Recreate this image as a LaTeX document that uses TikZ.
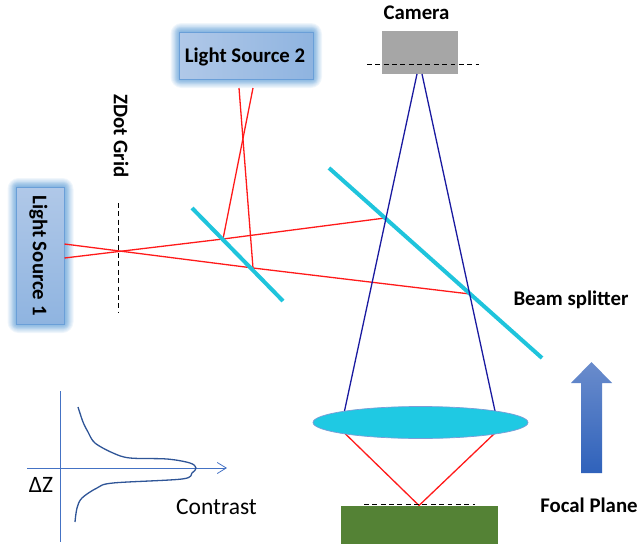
\documentclass[tikz,border=0pt]{standalone}
\usepackage{fontspec}
\setmainfont{Carlito}
\usetikzlibrary{arrows.meta,calc,shapes.geometric}
\definecolor{ray}{HTML}{FF1A1A}
\definecolor{beam}{HTML}{1A1AA0}
\definecolor{mirror}{HTML}{1FC4DC}
\definecolor{lensc}{HTML}{1FC9E3}
\definecolor{axisc}{HTML}{4472C4}
\definecolor{curvec}{HTML}{2F5597}
\definecolor{glow}{HTML}{5B9BD5}
\definecolor{boxa}{HTML}{B0C8E8}
\definecolor{boxb}{HTML}{8FB4E0}
\definecolor{boxline}{HTML}{6A9FD8}
\definecolor{stagec}{HTML}{548235}
\definecolor{arrowa}{HTML}{6A8CCC}
\definecolor{arrowb}{HTML}{2F62BB}
\tikzset{
  x=1pt,y=-1pt,
  rayline/.style={draw=ray,line width=1.3pt},
  beamline/.style={draw=beam,line width=1.3pt},
  mirrorline/.style={draw=mirror,line width=4pt},
  dashline/.style={draw=black,line width=.9pt,dash pattern=on 4.8pt off 3.55pt},
  lightbox/.style={draw=boxline,line width=.8pt,inner sep=0pt},
  boldtext/.style={inner sep=0pt,font=\bfseries\fontsize{20.8}{24}\selectfont},
  plainlabel/.style={inner sep=0pt,font=\fontsize{23.5}{28}\selectfont},
  axisline/.style={draw=axisc,line width=.8pt},
}
\newcommand{\glowbox}[4]{%
  \foreach \g in {9,8,...,1}{
    \fill[glow,opacity=.09,rounded corners=\g pt+2pt] (#1-\g,#2-\g) rectangle (#3+\g,#4+\g);
  }
  \foreach \g in {5,4,...,1}{
    \fill[glow,opacity=.07,rounded corners=\g pt] (#1-\g,#2-\g) rectangle (#3+\g,#4+\g);
  }
}
\begin{document}
\begin{tikzpicture}
\useasboundingbox (0,0) rectangle (643,544);
% glows
\glowbox{179.5}{32}{313}{79}
\glowbox{16.5}{187}{64.5}{324}
% light sources
\node[lightbox,left color=boxa,right color=boxb,minimum width=133.5pt,minimum height=47pt] (ls2) at (246.25,55.5) {};
\node[boldtext] (ls2t) at (245,56.5) {Light Source 2};
\node[lightbox,top color=boxa,bottom color=boxb,minimum width=48pt,minimum height=137pt] (ls1) at (40.5,255.5) {};
\node[boldtext,rotate=-90] (ls1t) at (38.5,255.5) {Light Source 1};
% coordinates
\coordinate (a1) at (64.5,244);
\coordinate (a2) at (64.5,258);
\coordinate (m1) at (253,268);
\coordinate (m2) at (223,239);
\coordinate (m3) at (470,294);
\coordinate (m4) at (385,218);
\coordinate (b1) at (239,88);
\coordinate (b2) at (253,88);
% mirrors
\coordinate (s1a) at (192,208); \coordinate (s1b) at (283,301);
\coordinate (s2a) at (329,168); \coordinate (s2b) at (542,358);
% red rays
\draw[rayline] (a1) -- (m1) -- (m3);
\draw[rayline] (a2) -- (m2) -- (m4);
\draw[rayline] (b1) -- (m1);
\draw[rayline] (b2) -- (m2);
\draw[mirrorline] (s1a) -- (s1b);
\draw[mirrorline] (s2a) -- (s2b);
% ZDot grid
\coordinate (g1) at (118,203); \coordinate (g2) at (118,313);
\draw[dashline] (g1) -- (g2);
\node[boldtext,rotate=-90] (zdot) at (121,136) {ZDot Grid};
% camera
\node[fill=black!35,inner sep=0pt,minimum width=76pt,minimum height=43pt] (cam) at (420,52.5) {};
\coordinate (d1) at (367,64.5); \coordinate (d2) at (479,64.5);
\draw[dashline] (d1) -- (d2);
\node[boldtext] (camt) at (416.5,13) {Camera};
% lens
\coordinate (c1) at (417,74); \coordinate (c2) at (422,74);
\coordinate (l1) at (344.5,411); \coordinate (l2) at (495,411);
\coordinate (l3) at (344.5,433); \coordinate (l4) at (495,433);
\coordinate (f) at (419,505.5);
\draw[beamline] (c1) -- (l1);
\draw[beamline] (c2) -- (l2);
\draw[rayline] (l3) -- (f) -- (l4);
\node[draw=axisc!70,fill=lensc,line width=.7pt,ellipse,inner sep=0pt,minimum width=215pt,minimum height=32pt] (lens) at (420.5,422.5) {};
% sample
\node[fill=stagec,inner sep=0pt,minimum width=156.5pt,minimum height=38pt] (stage) at (419.25,525) {};
\coordinate (e1) at (364,504.5); \coordinate (e2) at (475,504.5);
\draw[dashline,line width=.7pt] (e1) -- (e2);
\node[boldtext] (fpt) at (589,505) {Focal Plane};
\node[boldtext] (bst) at (571,300) {Beam splitter};
% big arrow
\shade[top color=arrowa,bottom color=arrowb]
  (591.5,362) -- (612,383) -- (602,383) -- (602,473) -- (581,473) -- (581,383) -- (571,383) -- cycle;
% plot
\coordinate (v1) at (60,391); \coordinate (v2) at (60,542);
\coordinate (h1) at (27,468); \coordinate (h2) at (227,468);
\draw[axisline] (v1) -- (v2);
\draw[axisline,-{Straight Barb[length=9pt,width=11pt,line width=.8pt]}] (h1) -- (h2);
\draw[draw=curvec,line width=1.3pt] plot[smooth,tension=.55] coordinates {
  (78,407) (83,422) (88,432) (95,443) (113,453) (130,458) (167,459) (190,463)
  (196,468) (192,473) (182,479) (113,483) (97,488) (82,498) (77,508) (75,522)};
\node[plainlabel] (dz) at (41,485) {ΔZ};
\node[plainlabel] (con) at (216.5,507) {Contrast};
\end{tikzpicture}
\end{document}
